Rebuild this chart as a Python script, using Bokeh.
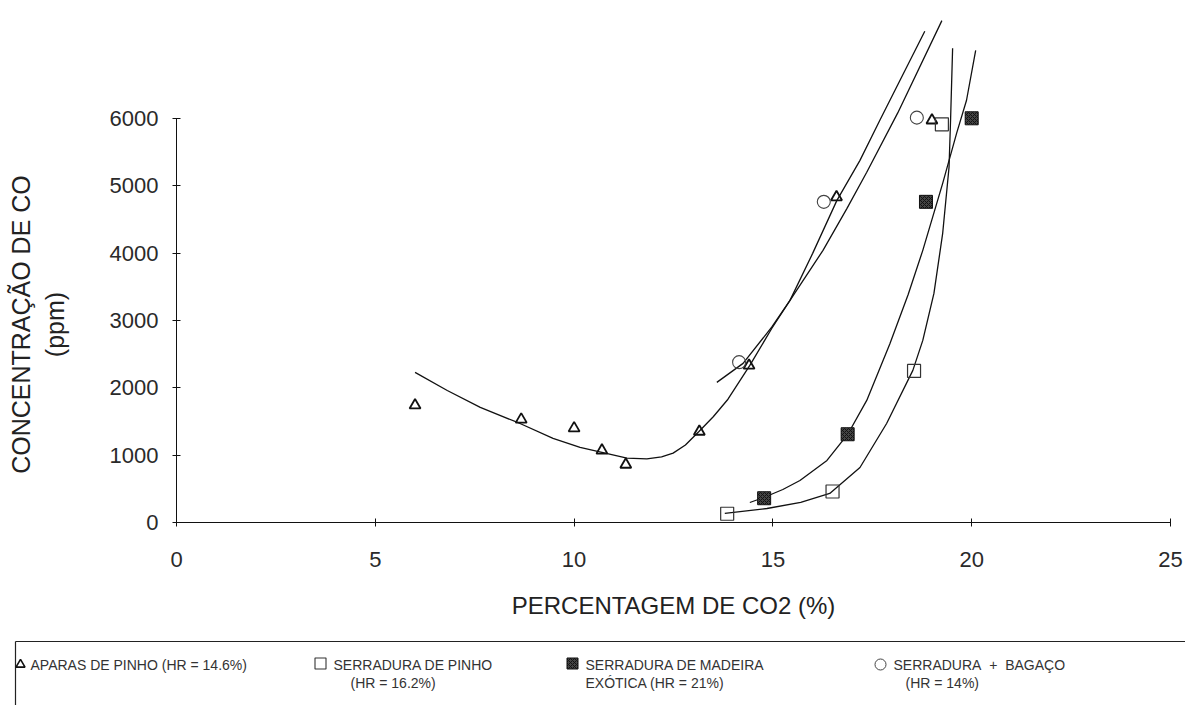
from bokeh.plotting import figure
from bokeh.models import Range1d, FixedTicker
from bokeh.core.properties import value
from bokeh.embed import file_html
from bokeh.resources import INLINE

# ---------------- data ----------------
# APARAS DE PINHO (HR = 14.6%)  - triangles
aparas_x = [6.0, 8.67, 10.0, 10.7, 11.3, 13.15, 14.4, 16.6, 19.0]
aparas_y = [1740, 1530, 1400, 1070, 860, 1350, 2330, 4830, 5970]
# SERRADURA DE PINHO (HR = 16.2%) - open squares
pinho_x = [13.85, 16.5, 18.55, 19.25]
pinho_y = [130, 460, 2250, 5910]
# SERRADURA DE MADEIRA EXOTICA (HR = 21%) - hatched squares
exotica_x = [14.78, 16.88, 18.85, 20.0]
exotica_y = [360, 1310, 4760, 6000]
# SERRADURA + BAGACO (HR = 14%) - circles
bagaco_x = [14.15, 16.28, 18.62]
bagaco_y = [2380, 4760, 6010]

# fitted curves
fit_aparas_x = [6.0, 6.81, 7.64, 8.64, 9.47, 10.15, 10.7, 11.33, 11.83, 12.2, 12.49,
                12.8, 13.14, 13.5, 13.87, 14.42, 14.97, 15.43, 16.26, 16.86, 17.36,
                18.14, 19.25]
fit_aparas_y = [2228, 1960, 1708, 1470, 1250, 1114, 1040, 955, 945, 975, 1030,
                1150, 1352, 1570, 1830, 2332, 2880, 3297, 4040, 4660, 5200,
                6080, 7450]
fit_bagaco_x = [13.59, 14.25, 14.97, 15.43, 16.0, 16.61, 17.19, 17.69, 18.82]
fit_bagaco_y = [2080, 2362, 2900, 3297, 3995, 4782, 5376, 5970, 7292]
fit_pinho_x = [13.79, 14.85, 15.7, 16.43, 17.19, 17.86, 18.52, 18.77, 19.05, 19.27,
               19.43, 19.47, 19.52]
fit_pinho_y = [134, 208, 300, 431, 817, 1470, 2258, 2703, 3400, 4292,
               5273, 6000, 7040]
fit_exotica_x = [14.42, 14.77, 15.25, 15.68, 16.36, 16.88, 17.36, 17.94, 18.4,
                 18.77, 19.27, 19.62, 19.87, 20.1]
fit_exotica_y = [297, 371, 490, 624, 921, 1307, 1812, 2650, 3380,
                 4040, 5035, 5777, 6268, 7010]

x_ticks = [0, 5, 10, 15, 20, 25]
y_ticks = [0, 1000, 2000, 3000, 4000, 5000, 6000]

S = "\u00a0"
legend_labels = [
    ["APARAS DE PINHO (HR = 14.6%)"],
    ["SERRADURA DE PINHO", "(HR = 16.2%)"],
    ["SERRADURA DE MADEIRA", "EXÓTICA (HR = 21%)"],
    ["SERRADURA" + S * 2 + "+" + S * 2 + "BAGAÇO", "(HR = 14%)"],
]

FONT = "Liberation Sans"
NB = S * 17

# ---------------- main chart ----------------
p = figure(width=1185, height=640,
           x_range=Range1d(0, 25), y_range=Range1d(0, 7630),
           output_backend="svg", toolbar_location=None,
           min_border_left=176, min_border_right=15,
           min_border_top=8, min_border_bottom=118)
p.outline_line_color = None
p.xgrid.visible = False
p.ygrid.visible = False
p.background_fill_color = "white"

for ax in (p.xaxis[0], p.yaxis[0]):
    ax.axis_line_color = "#111111"
    ax.axis_line_width = 1
    ax.major_tick_line_color = "#111111"
    ax.major_tick_in = 4
    ax.major_tick_out = 4
    ax.minor_tick_line_color = None
    ax.major_label_text_font = FONT
    ax.major_label_text_font_size = "22px"
    ax.major_label_text_color = "#2a2a2a"
    ax.axis_label_text_font = FONT
    ax.axis_label_text_font_style = "normal"
    ax.axis_label_text_color = "#222222"

p.xaxis.axis_label_text_font_size = "24px"
p.yaxis.axis_label_text_font_size = "25px"
p.xaxis.ticker = FixedTicker(ticks=x_ticks)
p.yaxis.ticker = FixedTicker(ticks=y_ticks)
p.xaxis.bounds = (x_ticks[0], x_ticks[-1])
p.yaxis.bounds = (y_ticks[0], y_ticks[-1])
p.xaxis.axis_label = "PERCENTAGEM DE CO2 (%)"
p.yaxis.axis_label = "CONCENTRAÇÃO DE CO" + NB + "\n(ppm)" + NB
p.xaxis.major_label_standoff = 25
p.xaxis.axis_label_standoff = 22
p.yaxis.major_label_standoff = 14
p.yaxis.axis_label_standoff = 38

lw = 1.3
p.line(fit_aparas_x, fit_aparas_y, line_color="#111111", line_width=lw)
p.line(fit_bagaco_x, fit_bagaco_y, line_color="#111111", line_width=lw)
p.line(fit_pinho_x, fit_pinho_y, line_color="#111111", line_width=lw)
p.line(fit_exotica_x, fit_exotica_y, line_color="#111111", line_width=lw)

p.scatter(aparas_x, aparas_y, marker="triangle", size=11, fill_color=None,
          line_color="#111111", line_width=1.8)
p.scatter(pinho_x, pinho_y, marker="square", size=13, fill_color=None,
          line_color="#333333", line_width=1.2)
p.scatter(exotica_x, exotica_y, marker="square", size=13, fill_color="#444444",
          hatch_pattern="x", hatch_color="#111111", hatch_scale=4,
          line_color="#111111", line_width=1)
p.scatter(bagaco_x, bagaco_y, marker="circle", size=13, fill_color=None,
          line_color="#444444", line_width=1.1)

# ---------------- legend strip (separate root, page coordinates) ----------------
leg = figure(width=1185, height=65, x_range=Range1d(0, 1185), y_range=Range1d(65, 0),
             output_backend="svg", toolbar_location=None,
             x_axis_location=None, y_axis_location=None,
             min_border=0, min_border_left=0, min_border_right=0,
             min_border_top=0, min_border_bottom=0)
leg.outline_line_color = None
leg.xgrid.visible = False
leg.ygrid.visible = False

leg.segment(x0=[15, 15], y0=[1, 1], x1=[1185, 15], y1=[1, 65],
            line_color="#222222", line_width=1.2)

mx = [20, 320, 572, 880]
my = [24, 23, 23, 24]
tx = [30, 333, 585, 893]
t2x = [30, 350, 585, 905]
leg.scatter([mx[0]], [my[0]], marker="triangle", size=9, fill_color=None,
            line_color="#111111", line_width=1.6)
leg.scatter([mx[1]], [my[1]], marker="square", size=11, fill_color=None,
            line_color="#333333", line_width=1.1)
leg.scatter([mx[2]], [my[2]], marker="square", size=11, fill_color="#444444",
            hatch_pattern="x", hatch_color="#111111", hatch_scale=4,
            line_color="#111111", line_width=1)
leg.scatter([mx[3]], [my[3]], marker="circle", size=11, fill_color=None,
            line_color="#444444", line_width=1)

for i, lines in enumerate(legend_labels):
    xs = [tx[i], t2x[i]][:len(lines)]
    ys = [24, 42][:len(lines)]
    leg.text(x=xs, y=ys, text=lines, text_font=value(FONT), text_font_size="14px",
             text_color="#333333", text_baseline="middle", text_align="left")

open("out.html", "w").write(file_html([p, leg], INLINE))
